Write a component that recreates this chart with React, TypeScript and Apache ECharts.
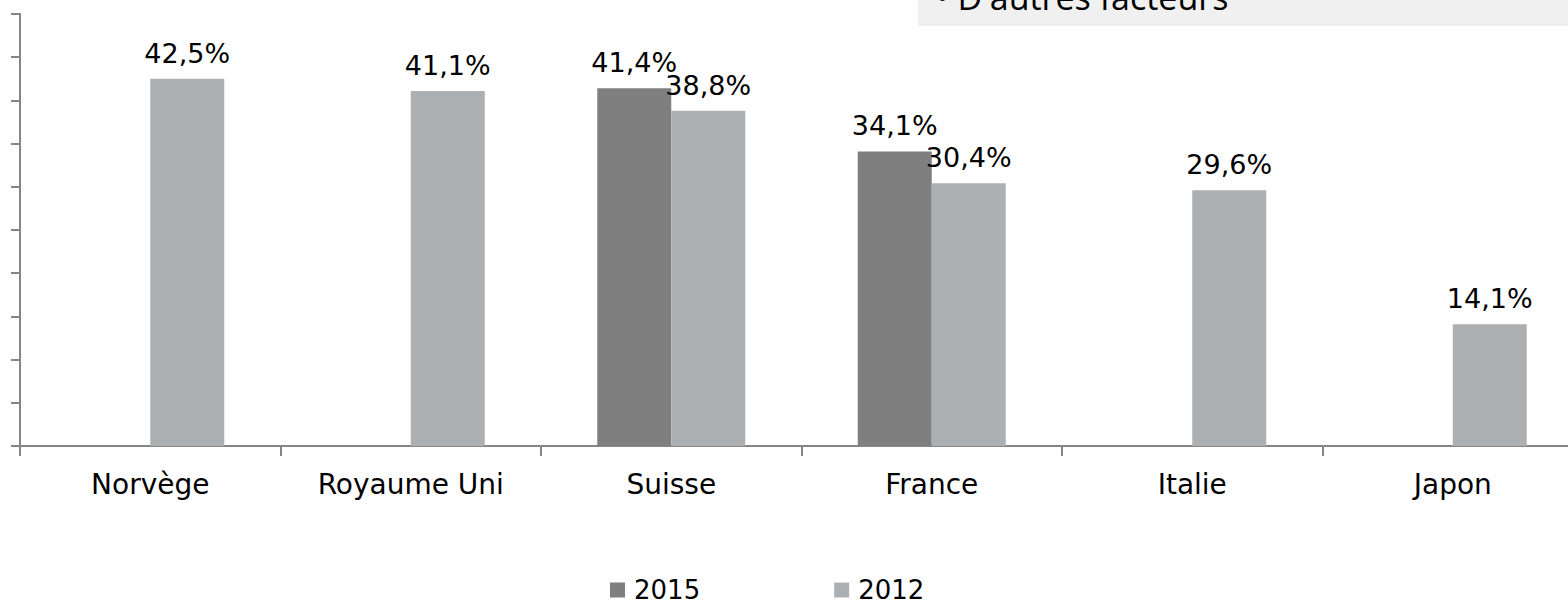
import React, { useEffect, useRef } from "react";
import * as echarts from "echarts";

const categories = ["Norvège", "Royaume Uni", "Suisse", "France", "Italie", "Japon"];
const values2015: (number | null)[] = [null, null, 41.4, 34.1, null, null];
const values2012: (number | null)[] = [42.5, 41.1, 38.8, 30.4, 29.6, 14.1];
const seriesNames = ["2015", "2012"];
const boxText = "• D'autres facteurs";

const FONT = "Verdana, 'DejaVu Sans', sans-serif";

export default function App() {
  const ref = useRef<HTMLDivElement>(null);
  useEffect(() => {
    document.body.style.margin = "0";
    document.body.style.overflow = "hidden";
    const chart = echarts.init(ref.current!, null, { renderer: "svg" });
    const labelFmt = (p: any) =>
      p.value == null ? "" : String(p.value.toFixed(1)).replace(".", ",") + "%";
    chart.setOption({
      animation: false,
      backgroundColor: "#ffffff",
      grid: { left: 20, top: 14, bottom: 156, right: 0, containLabel: false },
      legend: {
        data: seriesNames,
        left: 610,
        top: 577,
        padding: 0,
        icon: "rect",
        itemWidth: 15,
        itemHeight: 15,
        itemGap: 134,
        textStyle: {
          fontFamily: FONT,
          fontSize: 26,
          lineHeight: 20,
          color: "#000",
          padding: [0, 0, 0, 4],
        },
      },
      xAxis: {
        type: "category",
        data: categories,
        axisLine: { lineStyle: { color: "#868686", width: 2 } },
        axisTick: { show: true, length: 10, lineStyle: { color: "#868686", width: 2 } },
        axisLabel: { fontFamily: FONT, fontSize: 28, color: "#000", margin: 24, interval: 0 },
      },
      yAxis: {
        type: "value",
        min: 0,
        max: 50,
        interval: 5,
        axisLine: { show: true, lineStyle: { color: "#868686", width: 2 } },
        axisTick: { show: true, length: 9, lineStyle: { color: "#868686", width: 2 } },
        axisLabel: { show: false },
        splitLine: { show: false },
      },
      series: [
        {
          name: seriesNames[0],
          type: "bar",
          data: values2015,
          barWidth: 74,
          barGap: "0%",
          itemStyle: { color: "#7f7f7f" },
          label: {
            show: true,
            position: "top",
            distance: 12,
            fontFamily: FONT,
            fontSize: 27,
            color: "#000",
            formatter: labelFmt,
          },
        },
        {
          name: seriesNames[1],
          type: "bar",
          data: values2012,
          barWidth: 74,
          barGap: "0%",
          itemStyle: { color: "#adb0b2" },
          label: {
            show: true,
            position: "top",
            distance: 12,
            fontFamily: FONT,
            fontSize: 27,
            color: "#000",
            formatter: labelFmt,
          },
        },
      ],
      graphic: [
        {
          type: "rect",
          left: 918,
          top: 0,
          shape: { x: 0, y: 0, width: 680, height: 26 },
          style: { fill: "#f0f0f0" },
          z: 10,
        },
        {
          type: "text",
          x: 936,
          y: 14,
          z: 11,
          style: {
            text: boxText,
            fontFamily: "'Open Sans', sans-serif",
            fontSize: 34,
            fill: "#000",
            verticalAlign: "bottom",
          },
        },
      ],
    });
    return () => chart.dispose();
  }, []);
  return <div ref={ref} style={{ width: 1583, height: 602 }} />;
}
